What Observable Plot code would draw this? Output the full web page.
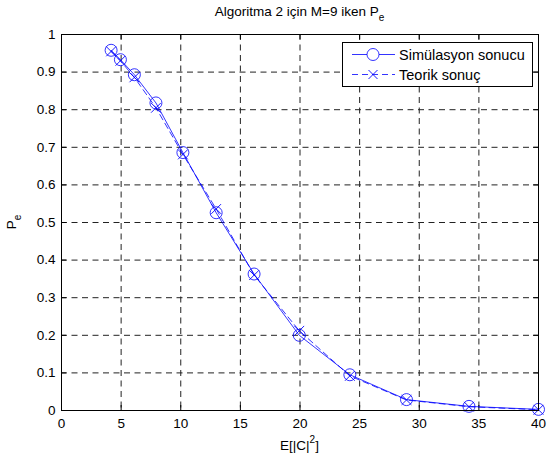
<!DOCTYPE html>
<html>
<head>
<meta charset="utf-8">
<script src="https://cdn.jsdelivr.net/npm/d3@7"></script>
<script src="https://cdn.jsdelivr.net/npm/@observablehq/plot@0.6"></script>
<style>
  html, body { margin: 0; padding: 0; background: #fff; }
  svg { display: block; }
</style>
</head>
<body>
<div id="chart"></div>
<script>
const energy = [4.16, 4.94, 6.11, 7.92, 10.18, 12.97, 16.15, 19.94, 24.18, 28.93, 34.17, 40];
const simPe = [0.958, 0.933, 0.893, 0.818, 0.686, 0.526, 0.363, 0.200, 0.095, 0.029, 0.011, 0.003];
const theoPe = [0.955, 0.930, 0.886, 0.805, 0.681, 0.536, 0.360, 0.212, 0.092, 0.028, 0.010, 0.002];
const xTicks = [0, 5, 10, 15, 20, 25, 30, 35, 40];
const yTicks = [0, 0.1, 0.2, 0.3, 0.4, 0.5, 0.6, 0.7, 0.8, 0.9, 1];
const yTickLabels = ["0", "0.1", "0.2", "0.3", "0.4", "0.5", "0.6", "0.7", "0.8", "0.9", "1"];
const seriesNames = ["Simülasyon sonucu", "Teorik sonuç"];

const sim = energy.map((x, i) => ({x, y: simPe[i]}));
const theo = energy.map((x, i) => ({x, y: theoPe[i]}));

const font = "'Liberation Sans', Arial, Helvetica, sans-serif";
const blue = "#0000ff";
const W = 547, H = 459;
const mL = 61, mR = 9, mT = 34, mB = 49;
const tickLenX = 5 / ((W - mL - mR) / 40);
const tickLenY = 5 / (H - mT - mB);

const chart = Plot.plot({
  width: W, height: H,
  marginLeft: mL, marginRight: mR, marginTop: mT, marginBottom: mB,
  style: {fontFamily: font, fontSize: "13.5px", background: "#fff", color: "#000"},
  x: {domain: [0, 40]},
  y: {domain: [0, 1]},
  marks: [
    Plot.ruleX(xTicks.filter(d => d > 0 && d < 40), {stroke: "#222", strokeDasharray: "6,4.5", strokeWidth: 1}),
    Plot.ruleY(yTicks.filter(d => d > 0 && d < 1), {stroke: "#222", strokeDasharray: "6,4.5", strokeWidth: 1}),
    // inside ticks
    Plot.ruleX(xTicks, {y1: 0, y2: tickLenY, stroke: "#000"}),
    Plot.ruleX(xTicks, {y1: 1 - tickLenY, y2: 1, stroke: "#000"}),
    Plot.ruleY(yTicks, {x1: 0, x2: tickLenX, stroke: "#000"}),
    Plot.ruleY(yTicks, {x1: 40 - tickLenX, x2: 40, stroke: "#000"}),
    Plot.axisX(xTicks, {tickSize: 0, tickPadding: 8, label: null, fontSize: 13.5}),
    Plot.axisY(yTicks, {tickSize: 0, tickPadding: 6, label: null, fontSize: 13.5, tickFormat: (d) => yTickLabels[yTicks.indexOf(d)]}),
    Plot.line(theo, {x: "x", y: "y", stroke: blue, strokeWidth: 0.8, strokeDasharray: "6,4"}),
    Plot.line(sim, {x: "x", y: "y", stroke: blue, strokeWidth: 0.8}),
    Plot.dot(sim, {x: "x", y: "y", r: 6, stroke: blue, strokeWidth: 0.8, fill: "none"}),
    Plot.dot(theo, {x: "x", y: "y", r: 4.5, symbol: "times", stroke: blue, strokeWidth: 0.9}),
    Plot.frame({stroke: "#000"})
  ]
});

document.getElementById("chart").appendChild(chart);

const svg = d3.select(chart);
const cx = (mL + W - mR) / 2;
const cy = (mT + H - mB) / 2;

// Title
const title = svg.append("text").attr("x", cx).attr("y", 16)
  .attr("text-anchor", "middle").attr("font-family", font).attr("font-size", 13.5).attr("fill", "#000");
title.append("tspan").text("Algoritma 2 için M=9 iken P");
title.append("tspan").attr("font-size", 10).attr("dy", 5).text("e");

// X label
const xl = svg.append("text").attr("x", cx).attr("y", 450)
  .attr("text-anchor", "middle").attr("font-family", font).attr("font-size", 13.5).attr("fill", "#000");
xl.append("tspan").text("E[|C|");
xl.append("tspan").attr("font-size", 10).attr("dy", -7).text("2");
xl.append("tspan").attr("dy", 7).text("]");

// Y label
const yl = svg.append("text").attr("transform", `translate(16,${cy}) rotate(-90)`)
  .attr("text-anchor", "middle").attr("font-family", font).attr("font-size", 13.5).attr("fill", "#000");
yl.append("tspan").text("P");
yl.append("tspan").attr("font-size", 10).attr("dy", 5).text("e");

// Legend
const lg = svg.append("g").attr("font-family", font).attr("font-size", 14.5).attr("text-anchor", "start");
lg.append("rect").attr("x", 342.5).attr("y", 42.5).attr("width", 190).attr("height", 44)
  .attr("fill", "#fff").attr("stroke", "#000").attr("stroke-width", 1);
const rows = [
  {y: 54.5, dash: null, sym: "circle", label: seriesNames[0]},
  {y: 74.5, dash: "6,4", sym: "times", label: seriesNames[1]}
];
rows.forEach(r => {
  lg.append("line").attr("x1", 352).attr("x2", 395).attr("y1", r.y).attr("y2", r.y)
    .attr("stroke", blue).attr("stroke-width", 0.8).attr("stroke-dasharray", r.dash);
  if (r.sym === "circle") {
    lg.append("circle").attr("cx", 373).attr("cy", r.y).attr("r", 6).attr("fill", "#fff").attr("stroke", blue).attr("stroke-width", 0.8);
  } else {
    const s = 4.5;
    lg.append("path").attr("d", `M${373 - s},${r.y - s}L${373 + s},${r.y + s}M${373 - s},${r.y + s}L${373 + s},${r.y - s}`)
      .attr("stroke", blue).attr("stroke-width", 0.9);
  }
  lg.append("text").attr("x", 399).attr("y", r.y + 5).attr("fill", "#000").attr("text-anchor", "start").text(r.label);
});
</script>
</body>
</html>
